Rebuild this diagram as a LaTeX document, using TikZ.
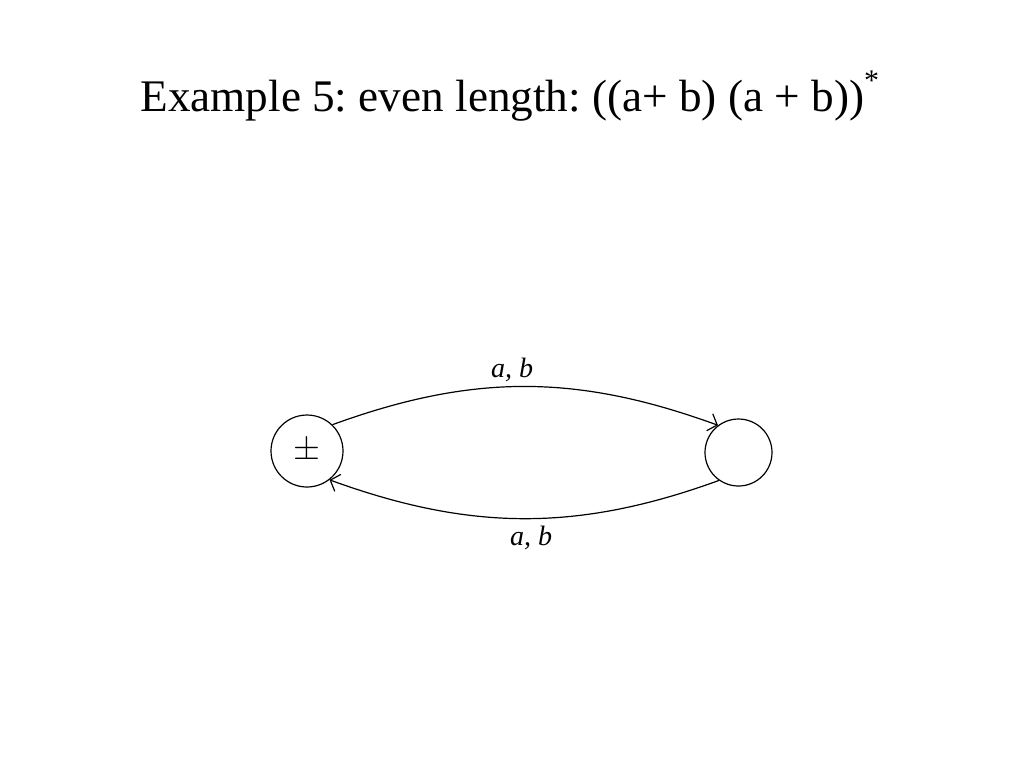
\documentclass[tikz,border=0pt]{standalone}
\usepackage{fontspec}
\setmainfont{Liberation Serif}
\usepackage{tikz}
\usetikzlibrary{arrows.meta}
\frenchspacing

\begin{document}
\begin{tikzpicture}[x=0.5pt,y=-0.5pt,
state/.style={shape=circle,draw,semithick,inner sep=0},
myarrow/.style={-{Straight Barb[length=4pt,width=9pt]},semithick},
edgeLabel/.style={font=\fontsize{14}{16}\selectfont\itshape}
]
\useasboundingbox (0,0) rectangle (1024,768);
\node[anchor=base west,inner sep=0,font=\fontsize{22.6}{26}\selectfont] (title) at (140,111)
  {Example 5: even length: ((a+ b) (a + b))\raisebox{0.45em}{\fontsize{15}{15}\selectfont *}};
\node[state,minimum size=36pt] (q0) at (307,451) {\fontsize{16}{16}\selectfont$\pm$};
\node[state,minimum size=33.5pt] (q1) at (738.5,452.5) {};
\draw[myarrow] (q0.46) .. controls +(-20:150) and +(-160:150) .. (q1.127);
\draw[myarrow] (q1.235) .. controls +(160:150) and +(20:150) .. (q0.308);
\node[edgeLabel] (top) at (512,370) {a, b};
\node[edgeLabel] (bot) at (531,538) {a, b};
\end{tikzpicture}
\end{document}
